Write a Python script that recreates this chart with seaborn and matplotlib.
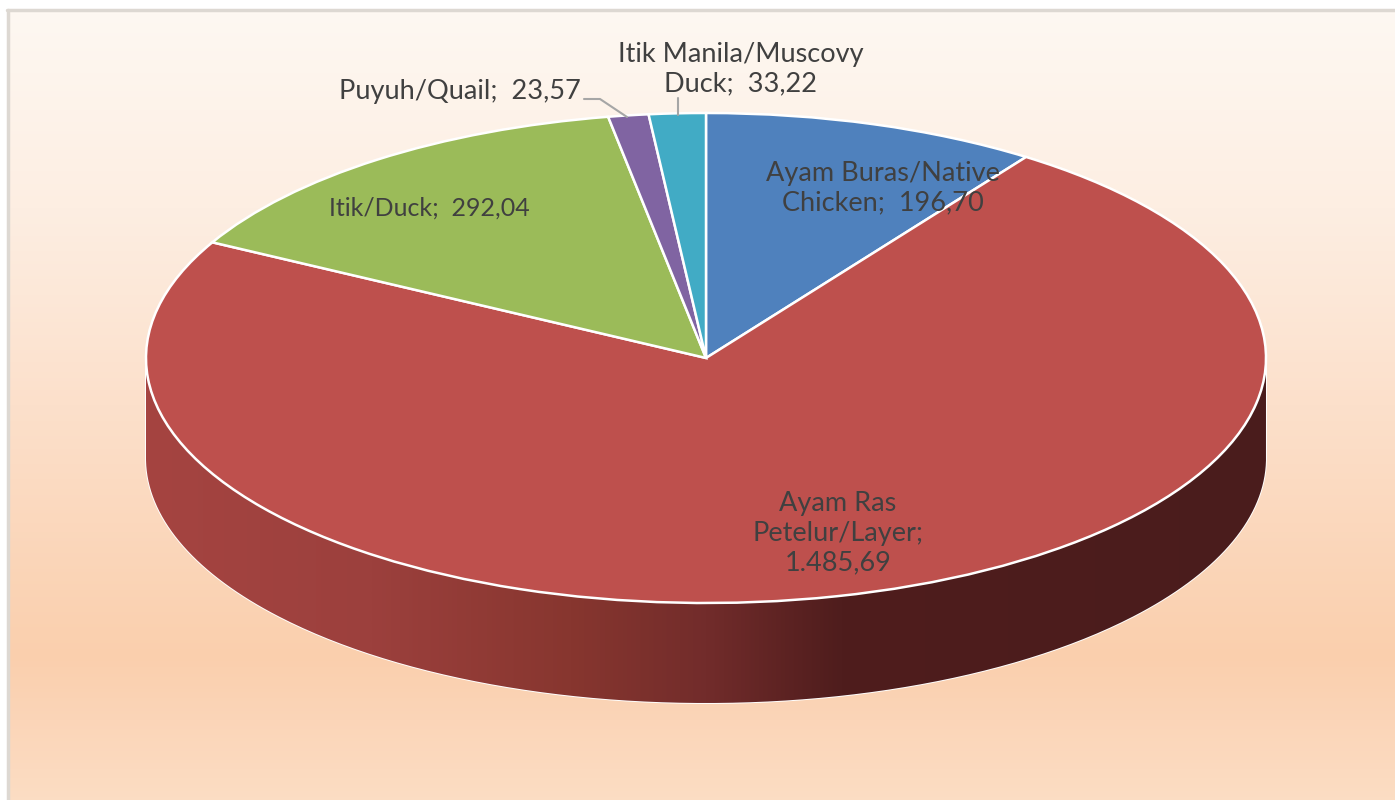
import numpy as np
import matplotlib
matplotlib.use("Agg")
import matplotlib.pyplot as plt
from matplotlib.colors import LinearSegmentedColormap
from matplotlib.patches import PathPatch
from matplotlib.path import Path
import seaborn as sns

sns.set_theme(style="white")
plt.rcParams['font.family'] = ['Lato', 'DejaVu Sans']

labels = ["Ayam Buras/Native\nChicken;  196,70", "Ayam Ras\nPetelur/Layer;\n1.485,69",
          "Itik/Duck;  292,04", "Puyuh/Quail;  23,57", "Itik Manila/Muscovy\nDuck;  33,22"]
values = [196.70, 1485.69, 292.04, 23.57, 33.22]
colors = sns.color_palette(["#4F81BD", "#BE504D", "#9BBB59", "#8064A2", "#41ABC5"])

W, H = 1395, 800
CX, CY, RX, RY, DEPTH = 706, 358, 560, 245, 100
TXT = "#404040"

fig = plt.figure(figsize=(W / 100, H / 100), dpi=100, facecolor="white")

# background panel
bg = fig.add_axes([8 / W, 0, 1 - 8 / W, 1 - 11 / H], zorder=0)
bg_cmap = LinearSegmentedColormap.from_list("bg", [
    (0.00, "#FEF8F2"), (0.25, "#FDEEE2"), (0.50, "#FCE0CB"),
    (0.82, "#FACFAD"), (0.90, "#FBD5B8"), (1.00, "#FBDDC3")])
bg.imshow(np.linspace(0, 1, 256)[:, None], cmap=bg_cmap, aspect="auto", vmin=0, vmax=1)
bg.set_axis_off()
fig.add_artist(plt.Line2D([8 / W, 8 / W], [0, 1 - 10 / H], color="#DDD8D2", lw=2.5, transform=fig.transFigure))
fig.add_artist(plt.Line2D([7 / W, 1], [1 - 10 / H, 1 - 10 / H], color="#DDD8D2", lw=2.5, transform=fig.transFigure))

# pie axes: one data unit = pie radius on each axis, so the circle renders as the tilted ellipse
ax = fig.add_axes([0, 0, 1, 1], zorder=1)
ax.patch.set_alpha(0)
wedges, _ = ax.pie(values, colors=colors, startangle=90, counterclock=False, radius=1,
                   wedgeprops=dict(edgecolor="white", linewidth=1.8))
for w in wedges:
    w.set_zorder(3)
ax.set_aspect("auto")
xlim = (-CX / RX, (W - CX) / RX)
ylim = (-(H - CY) / RY, CY / RY)
depth = DEPTH / RY

# extruded rim with horizontal shading
theta = np.linspace(np.pi, 2 * np.pi, 300)
xs, ys = np.cos(theta), np.sin(theta)
rim_xy = np.vstack([np.c_[xs, ys], np.c_[xs[::-1], ys[::-1] - depth], [[xs[0], ys[0]]]])
rim_patch = PathPatch(Path(rim_xy), transform=ax.transData, facecolor="none", edgecolor="none")
ax.add_patch(rim_patch)
rim_cmap = LinearSegmentedColormap.from_list("rim", [
    (0.00, "#A54441"), (0.20, "#9C403D"), (0.38, "#87362F"), (0.50, "#722C2B"),
    (0.62, "#4F1D1D"), (1.00, "#4A1C1C")])
img = ax.imshow(np.linspace(0, 1, 512)[None, :], cmap=rim_cmap, aspect="auto", zorder=2,
                extent=(-1, 1, -1 - depth, 0.1))
img.set_clip_path(rim_patch)
ax.plot(np.r_[-1, xs, 1], np.r_[0, ys - depth, 0], color="white", lw=1.4, zorder=1.5)

ax.set_xlim(xlim)
ax.set_ylim(ylim)
ax.set_axis_off()


def px(x, y):
    return (x - CX) / RX, (CY - y) / RY


label_pos = [(883, 188), (838, 533), (429, 208), (460, 91), (741, 69)]
label_size = [19.5, 19.5, 18, 19.5, 19.5]
for lab, (x, y), fs in zip(labels, label_pos, label_size):
    ax.text(*px(x, y), lab, ha="center", va="center", fontsize=fs, color=TXT,
            linespacing=1.22, zorder=5)

# leader lines
lx, ly = zip(px(584, 99), px(600, 99), px(627, 117))
ax.plot(lx, ly, color="#A6A6A6", lw=1.5, zorder=4)
lx, ly = zip(px(678, 98), px(678, 115))
ax.plot(lx, ly, color="#A6A6A6", lw=1.5, zorder=4)

fig.savefig("out.png", dpi=100)
